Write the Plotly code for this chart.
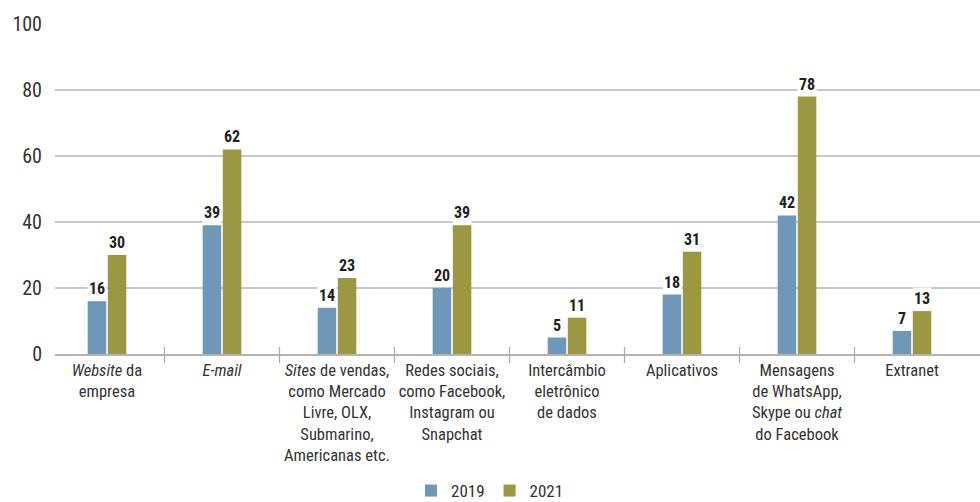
import plotly.graph_objects as go

# Survey categories (HTML markup for italic words and line breaks)
categories = [
    "<i>Website</i> da<br>empresa",
    "<i>E-mail</i>",
    "<i>Sites</i> de vendas,<br>como Mercado<br>Livre, OLX,<br>Submarino,<br>Americanas etc.",
    "Redes sociais,<br>como Facebook,<br>Instagram ou<br>Snapchat",
    "Intercâmbio<br>eletrônico<br>de dados",
    "Aplicativos",
    "Mensagens<br>de WhatsApp,<br>Skype ou <i>chat</i><br>do Facebook",
    "Extranet",
]
values_2019 = [16, 39, 14, 20, 5, 18, 42, 7]
values_2021 = [30, 62, 23, 39, 11, 31, 78, 13]
y_ticks = [0, 20, 40, 60, 80, 100]

BLUE = "#6f97b7"
OLIVE = "#9c9743"
TEXT = "#333333"
GRID = "#c8c8c8"
FONT = "Liberation Sans Narrow, Roboto Condensed, DejaVu Sans Condensed, sans-serif"

pos = list(range(len(categories)))

fig = go.Figure()
fig.add_trace(go.Bar(x=pos, y=values_2019, name="2019", marker_color=BLUE,
                     marker_line_width=0))
fig.add_trace(go.Bar(x=pos, y=values_2021, name="2021", marker_color=OLIVE,
                     marker_line_width=0))

# Value labels above each bar, with a white backing so gridlines do not cross them
for series, shift in ((values_2019, -10), (values_2021, 10)):
    for xi, v in zip(pos, series):
        fig.add_annotation(x=xi, y=v, xref="x", yref="y", text=f"<b>{v}</b>",
                           showarrow=False, xshift=shift, yanchor="bottom", yshift=1,
                           bgcolor="white", borderpad=1,
                           font=dict(family=FONT, size=16, color="#222222"))

# Small ticks marking the boundaries between categories
for b in [p + 0.5 for p in pos[:-1]]:
    fig.add_shape(type="line", xref="x", yref="paper", x0=b, x1=b,
                  y0=-9 / 330, y1=7 / 330, line=dict(color="#aaaaaa", width=1.2))

fig.update_layout(
    width=980, height=502,
    margin=dict(l=55, r=0, t=24, b=148, autoexpand=False),
    paper_bgcolor="white", plot_bgcolor="white",
    barmode="group", bargap=0.65, bargroupgap=0.08,
    font=dict(family=FONT, color=TEXT),
    showlegend=True,
    legend=dict(orientation="h", x=0.5, xanchor="center", xref="container",
                y=-137 / 330, yanchor="middle", yref="paper",
                font=dict(family=FONT, size=17, color=TEXT),
                itemwidth=30, tracegroupgap=0),
    xaxis=dict(
        tickmode="array", tickvals=pos, ticktext=categories,
        range=[-0.4522, 7.5913], ticks="", showgrid=False, zeroline=False,
        showline=True, linecolor="#b4b4b4", linewidth=1.5,
        tickfont=dict(family=FONT, size=16.5, color=TEXT),
        fixedrange=True,
    ),
    yaxis=dict(
        range=[0, 100], tickmode="array", tickvals=y_ticks,
        showgrid=True, gridcolor=GRID, gridwidth=1.5, zeroline=False,
        ticks="", ticklabelstandoff=12,
        tickfont=dict(family=FONT, size=20, color=TEXT),
        fixedrange=True,
    ),
)

fig.write_html("out.html")
